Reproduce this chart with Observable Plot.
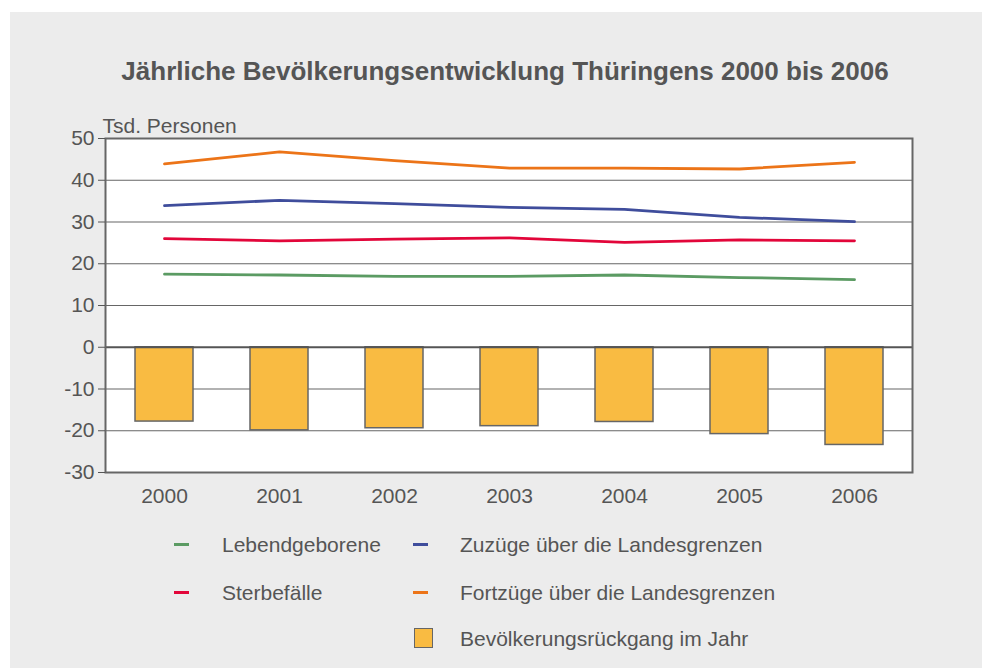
<!DOCTYPE html>
<html>
<head>
<meta charset="utf-8">
<script src="https://cdn.jsdelivr.net/npm/d3@7"></script>
<script src="https://cdn.jsdelivr.net/npm/@observablehq/plot@0.6"></script>
<style>
  html, body { margin: 0; padding: 0; background: #ffffff; }
  body { width: 982px; height: 668px; position: relative; overflow: hidden;
         font-family: "Liberation Sans", Arial, sans-serif; color: #555; }
  #panel { position: absolute; left: 10px; top: 12px; width: 972px; height: 656px; background: #ececec; }
  #title { position: absolute; left: 0; width: 1010px; top: 58px; text-align: center;
           font-size: 26px; line-height: 26px; font-weight: bold; color: #555; white-space: nowrap; }
  #chart { position: absolute; left: 0; top: 0; }
  .lg { position: absolute; font-size: 21px; line-height: 21px; color: #555; white-space: nowrap; }
  .sw { position: absolute; width: 15px; height: 3px; }
  .sq { position: absolute; width: 17px; height: 18px; background: #f9bb42; border: 1.5px solid #666; }
</style>
</head>
<body>
<div id="panel"></div>
<div id="title">Jährliche Bevölkerungsentwicklung Thüringens 2000 bis 2006</div>
<div id="chart"></div>
<div id="legend"></div>
<script>
// ---- data ----
const years = ["2000", "2001", "2002", "2003", "2004", "2005", "2006"];
const lebendgeborene = [17.5, 17.3, 17.0, 17.0, 17.3, 16.7, 16.2];
const sterbefaelle = [26.0, 25.5, 25.9, 26.2, 25.1, 25.7, 25.5];
const zuzuege = [33.9, 35.2, 34.4, 33.5, 33.0, 31.1, 30.1];
const fortzuege = [43.9, 46.8, 44.7, 42.9, 42.9, 42.7, 44.3];
const rueckgang = [-17.8, -19.9, -19.4, -18.9, -17.9, -20.8, -23.4];
const yTicks = [-30, -20, -10, 0, 10, 20, 30, 40, 50];

const seriesNames = ["Lebendgeborene", "Zuzüge über die Landesgrenzen", "Sterbefälle", "Fortzüge über die Landesgrenzen"];
const seriesValues = [lebendgeborene, zuzuege, sterbefaelle, fortzuege];
const seriesColors = ["#5b9b63", "#3f4d9c", "#e2063a", "#ec7418"];
const barName = "Bevölkerungsrückgang im Jahr";

const lineRows = seriesNames.flatMap((name, i) =>
  years.map((year, j) => ({series: name, year, value: seriesValues[i][j]})));
const barRows = years.map((year, j) => ({year, value: rueckgang[j]}));

const chart = Plot.plot({
  width: 982,
  height: 520,
  marginLeft: 105,
  marginRight: 70,
  marginTop: 138,
  marginBottom: 48,
  style: {background: "transparent", fontFamily: "'Liberation Sans', Arial, sans-serif", fontSize: "21px", color: "#555", overflow: "visible"},
  x: {type: "band", domain: years, paddingInner: 0.5, paddingOuter: 0.25, align: 0.5, label: null},
  y: {domain: [-30, 50], label: null},
  color: {domain: seriesNames, range: seriesColors},
  marks: [
    Plot.frame({fill: "white", stroke: null}),
    Plot.ruleY(yTicks.filter(d => d !== -30 && d !== 50 && d !== 0), {stroke: "#666", strokeWidth: 1.2}),
    Plot.barY(barRows, {x: "year", y: "value", fill: "#f9bb42", stroke: "#666", strokeWidth: 1.5}),
    Plot.ruleY([0], {stroke: "#555", strokeWidth: 2.2}),
    Plot.line(lineRows, {x: "year", y: "value", z: "series", stroke: "series", strokeWidth: 2.8}),
    Plot.frame({stroke: "#666", strokeWidth: 2}),
    Plot.axisY({ticks: yTicks, tickFormat: d => String(d), tickSize: 7, tickPadding: 4, fontSize: 21, label: null}),
    Plot.axisX({tickSize: 0, tickPadding: 16, fontSize: 21, label: null}),
    Plot.text(["Tsd. Personen"], {frameAnchor: "top-left", text: d => d, textAnchor: "start", lineAnchor: "bottom", dx: -3, dy: -6, fontSize: 21, fill: "#555"})
  ]
});
document.getElementById("chart").appendChild(chart);

// ---- legend ----
const legend = document.getElementById("legend");
const legendItems = [
  {name: seriesNames[0], color: seriesColors[0], sx: 174, tx: 222, cy: 544},
  {name: seriesNames[1], color: seriesColors[1], sx: 413, tx: 460, cy: 544},
  {name: seriesNames[2], color: seriesColors[2], sx: 174, tx: 222, cy: 592},
  {name: seriesNames[3], color: seriesColors[3], sx: 413, tx: 460, cy: 592}
];
for (const it of legendItems) {
  const sw = document.createElement("div");
  sw.className = "sw";
  sw.style.left = it.sx + "px";
  sw.style.top = (it.cy - 1.5) + "px";
  sw.style.background = it.color;
  legend.appendChild(sw);
  const t = document.createElement("div");
  t.className = "lg";
  t.style.left = it.tx + "px";
  t.style.top = (it.cy - 10) + "px";
  t.textContent = it.name;
  legend.appendChild(t);
}
const sq = document.createElement("div");
sq.className = "sq";
sq.style.left = "414px";
sq.style.top = "628px";
legend.appendChild(sq);
const bt = document.createElement("div");
bt.className = "lg";
bt.style.left = "460px";
bt.style.top = "628px";
bt.textContent = barName;
legend.appendChild(bt);
</script>
</body>
</html>
